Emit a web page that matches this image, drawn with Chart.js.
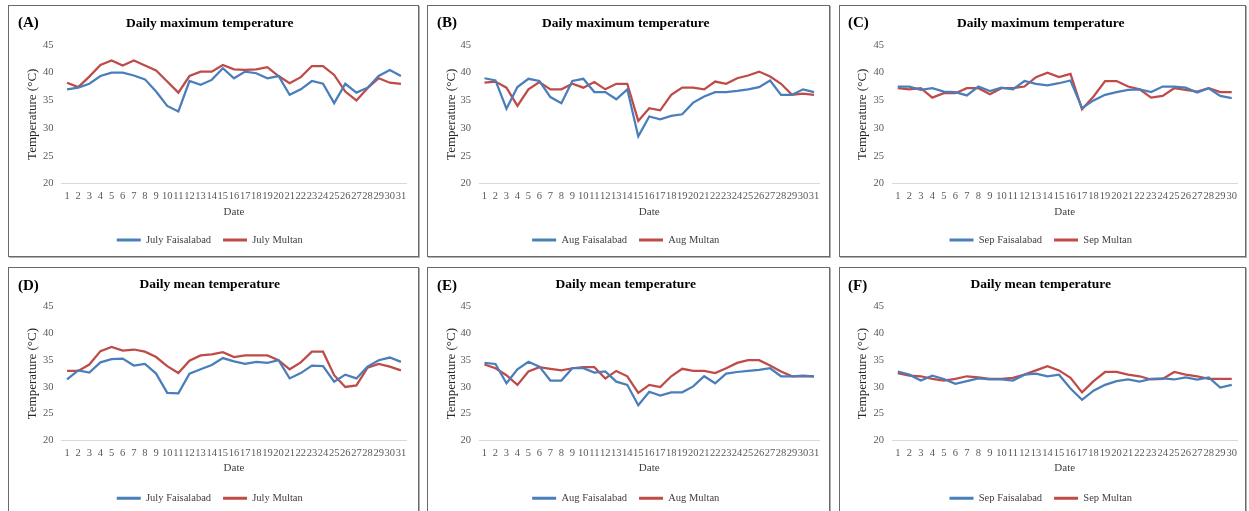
<!DOCTYPE html>
<html><head><meta charset="utf-8">
<script src="https://cdn.jsdelivr.net/npm/chart.js@4"></script>
<style>
body{margin:0;background:#fff;width:1249px;height:511px;overflow:hidden;position:relative;font-family:"Liberation Serif",serif}
.panel{position:absolute;border:1px solid #6a6a6a;box-shadow:1px 1px 0 #b0b0b0;background:#fff}
.panel canvas{position:absolute;left:0;top:0}
.tag{position:absolute;font:bold 15px "Liberation Serif",serif;color:#000;line-height:16px}
</style></head><body>
<script>
// ---- category / tick labels ----
const days31 = ['1','2','3','4','5','6','7','8','9','10','11','12','13','14','15','16','17','18','19','20','21','22','23','24','25','26','27','28','29','30','31'];
const days30 = ['1','2','3','4','5','6','7','8','9','10','11','12','13','14','15','16','17','18','19','20','21','22','23','24','25','26','27','28','29','30'];
const yTicks = [20, 25, 30, 35, 40, 45];

// ---- Daily maximum temperature ----
const julyMaxFaisalabad = [37.0,37.3,38.0,39.4,40.0,40.0,39.5,38.8,36.6,34.0,33.0,38.5,37.8,38.7,40.8,39.0,40.2,39.9,39.0,39.4,36.0,37.0,38.5,38.0,34.5,38.0,36.4,37.3,39.4,40.5,39.4];
const julyMaxMultan     = [38.2,37.4,39.3,41.4,42.2,41.3,42.2,41.3,40.4,38.4,36.4,39.4,40.2,40.2,41.4,40.6,40.5,40.6,41.0,39.4,38.1,39.2,41.2,41.2,39.6,36.6,35.0,37.2,39.0,38.2,38.0];
const augMaxFaisalabad  = [39.0,38.6,33.5,37.4,38.9,38.5,35.6,34.5,38.5,38.9,36.5,36.5,35.2,37.0,28.5,32.1,31.6,32.2,32.5,34.6,35.7,36.5,36.5,36.7,37.0,37.4,38.6,36.0,36.0,37.0,36.5];
const augMaxMultan      = [38.2,38.4,37.3,34.0,37.0,38.3,37.0,37.0,38.0,37.3,38.3,37.0,38.0,38.0,31.3,33.6,33.2,36.0,37.3,37.3,37.0,38.4,38.0,39.0,39.5,40.2,39.3,38.0,36.0,36.2,36.0];
const sepMaxFaisalabad  = [37.5,37.5,36.9,37.2,36.6,36.5,35.9,37.5,36.7,37.3,37.0,38.5,38.0,37.7,38.1,38.6,33.6,35.0,36.0,36.5,36.9,37.0,36.5,37.5,37.5,37.3,36.4,37.2,35.8,35.4];
const sepMaxMultan      = [37.2,37.0,37.2,35.5,36.3,36.3,37.2,37.2,36.1,37.2,37.2,37.5,39.2,40.0,39.2,39.8,33.4,35.7,38.5,38.5,37.5,37.0,35.5,35.8,37.2,36.9,36.6,37.2,36.5,36.5];

// ---- Daily mean temperature ----
const julyMeanFaisalabad = [31.4,33.1,32.7,34.6,35.2,35.3,34.0,34.3,32.5,28.9,28.8,32.5,33.3,34.1,35.4,34.8,34.3,34.7,34.5,35.0,31.6,32.6,34.0,33.9,31.0,32.3,31.6,33.8,35.0,35.5,34.7];
const julyMeanMultan     = [33.0,33.0,34.2,36.7,37.5,36.8,37.0,36.6,35.6,33.9,32.6,34.9,35.9,36.1,36.5,35.6,35.9,35.9,35.9,35.0,33.3,34.6,36.6,36.6,32.2,30.0,30.3,33.6,34.3,33.8,33.1];
const augMeanFaisalabad  = [34.5,34.3,30.7,33.3,34.7,33.8,31.2,31.2,33.5,33.5,32.7,32.9,31.0,30.4,26.6,29.1,28.4,29.0,29.0,30.1,32.0,30.7,32.5,32.8,33.0,33.2,33.5,32.0,32.0,32.1,32.0];
const augMeanMultan      = [34.2,33.5,32.2,30.4,32.9,33.7,33.4,33.1,33.5,33.7,33.7,31.6,33.0,32.0,28.9,30.4,30.0,32.0,33.4,33.0,33.0,32.6,33.5,34.5,35.0,35.0,34.0,32.9,32.0,32.0,32.0];
const sepMeanFaisalabad  = [32.9,32.3,31.2,32.1,31.5,30.6,31.1,31.6,31.4,31.4,31.2,32.3,32.5,32.0,32.3,29.7,27.6,29.3,30.4,31.1,31.4,31.0,31.5,31.6,31.4,31.8,31.4,31.8,29.9,30.4];
const sepMeanMultan      = [32.6,32.1,32.0,31.5,31.2,31.5,32.0,31.8,31.5,31.5,31.7,32.3,33.1,33.9,33.1,31.7,29.0,31.1,32.8,32.8,32.3,32.0,31.4,31.5,32.8,32.3,32.0,31.5,31.5,31.5];

const panels = [
  {tag:'(A)', title:'Daily maximum temperature', labels:days31, a:julyMaxFaisalabad, b:julyMaxMultan, names:['July Faisalabad','July Multan'], col:0, row:0},
  {tag:'(B)', title:'Daily maximum temperature', labels:days31, a:augMaxFaisalabad, b:augMaxMultan, names:['Aug Faisalabad','Aug Multan'], col:1, row:0},
  {tag:'(C)', title:'Daily maximum temperature', labels:days30, a:sepMaxFaisalabad, b:sepMaxMultan, names:['Sep Faisalabad','Sep Multan'], col:2, row:0},
  {tag:'(D)', title:'Daily mean temperature', labels:days31, a:julyMeanFaisalabad, b:julyMeanMultan, names:['July Faisalabad','July Multan'], col:0, row:1},
  {tag:'(E)', title:'Daily mean temperature', labels:days31, a:augMeanFaisalabad, b:augMeanMultan, names:['Aug Faisalabad','Aug Multan'], col:1, row:1},
  {tag:'(F)', title:'Daily mean temperature', labels:days30, a:sepMeanFaisalabad, b:sepMeanMultan, names:['Sep Faisalabad','Sep Multan'], col:2, row:1}
];

// layout (absolute page pixels)
const cols = [
  {boxL:8,   boxR:419,  plotL:61.5, plotR:406.5,  yTitleX:33,    tagX:18},
  {boxL:427, boxR:830,  plotL:479,  plotR:819.5,  yTitleX:452,   tagX:437},
  {boxL:839, boxR:1246, plotL:892,  plotR:1237.5, yTitleX:862.5, tagX:848}
];
const rows = [
  {boxT:5,   boxB:257, titleY:24,  plotT:45,    plotB:183.5, dateY:212,   legY:240,   tagY:14},
  {boxT:267, boxB:515, titleY:285, plotT:306.7, plotB:440.5, dateY:468.5, legY:498.3, tagY:277}
];

const BLUE = '#4a7ebb', RED = '#be4b48';
const FONT = '"Liberation Serif", serif';

panels.forEach((p, i) => {
  const c = cols[p.col], r = rows[p.row];
  const W = c.boxR - c.boxL - 2, H = r.boxB - r.boxT - 2;
  const ox = c.boxL + 1, oy = r.boxT + 1;
  const div = document.createElement('div');
  div.className = 'panel';
  div.style.cssText = `left:${c.boxL}px;top:${r.boxT}px;width:${W}px;height:${H}px`;
  const cv = document.createElement('canvas');
  cv.width = W; cv.height = H; cv.style.width = W+'px'; cv.style.height = H+'px';
  div.appendChild(cv);
  document.body.appendChild(div);
  const tag = document.createElement('div');
  tag.className = 'tag'; tag.textContent = p.tag;
  tag.style.left = c.tagX + 'px'; tag.style.top = r.tagY + 'px';
  document.body.appendChild(tag);

  const padL = 4;
  const yWidth = (c.plotL - ox) - padL;
  const padR = W - (c.plotR - ox);
  const yTitleLH = 13 * 1.2;
  const yTitlePad = (c.yTitleX - ox) - padL - yTitleLH / 2;
  const tLH = 13.5 * 1.2;
  const tPadTop = (r.titleY - oy) - tLH / 2;
  const tPadBot = (r.plotT - oy) - tPadTop - tLH;
  const lp = 12, itemH = 10.5;
  const legTop = (r.legY - oy) - lp - itemH / 2;
  const legH = itemH + lp + 10;
  const padB = Math.max(0, H - legTop - legH);
  const xH = legTop - (r.plotB - oy);
  const dLH = 11 * 1.2;
  const dPadBot = legTop - dLH / 2 - (r.dateY - oy);

  new Chart(cv, {
    type: 'line',
    data: {
      labels: p.labels,
      datasets: [
        {label: p.names[0], data: p.a, borderColor: BLUE, backgroundColor: BLUE, borderWidth: 2.25, pointRadius: 0, tension: 0, fill: false},
        {label: p.names[1], data: p.b, borderColor: RED, backgroundColor: RED, borderWidth: 2.25, pointRadius: 0, tension: 0, fill: false}
      ]
    },
    options: {
      responsive: false, animation: false, devicePixelRatio: 1,
      layout: {padding: {left: padL, right: padR, top: 0, bottom: padB}},
      plugins: {
        title: {display: true, text: p.title, color: '#000', font: {family: FONT, size: 13.5, weight: 'bold'}, padding: {top: tPadTop, bottom: tPadBot}},
        legend: {
          position: 'bottom',
          labels: {
            font: {family: FONT, size: 10.5}, color: '#404040', boxWidth: 24, boxHeight: 3, padding: lp,
            generateLabels: (chart) => Chart.defaults.plugins.legend.labels.generateLabels(chart).map(it => Object.assign(it, {lineWidth: 0, fillStyle: it.strokeStyle}))
          }
        },
        tooltip: {enabled: false}
      },
      scales: {
        x: {
          type: 'category', offset: true,
          grid: {display: false, drawTicks: false},
          border: {display: true, color: '#d9d9d9', width: 1},
          ticks: {autoSkip: false, maxRotation: 0, minRotation: 0, padding: 6, color: '#595959', font: {family: FONT, size: 10.5}},
          title: {display: true, text: 'Date', color: '#404040', font: {family: FONT, size: 11}, padding: {top: 0, bottom: dPadBot}},
          afterFit: (s) => { s.height = xH; s.paddingLeft = 0; s.paddingRight = 0; }
        },
        y: {
          min: 20, max: 45,
          afterBuildTicks: (s) => { s.ticks = yTicks.map(v => ({value: v})); },
          grid: {display: false, drawTicks: false},
          border: {display: false},
          ticks: {padding: 8, color: '#595959', font: {family: FONT, size: 10.5}},
          title: {display: true, text: 'Temperature (°C)', color: '#262626', font: {family: FONT, size: 13}, padding: {top: yTitlePad, bottom: 0}},
          afterFit: (s) => { s.width = yWidth; s.paddingTop = 0; s.paddingBottom = 0; }
        }
      }
    }
  });
});
</script>
</body></html>
